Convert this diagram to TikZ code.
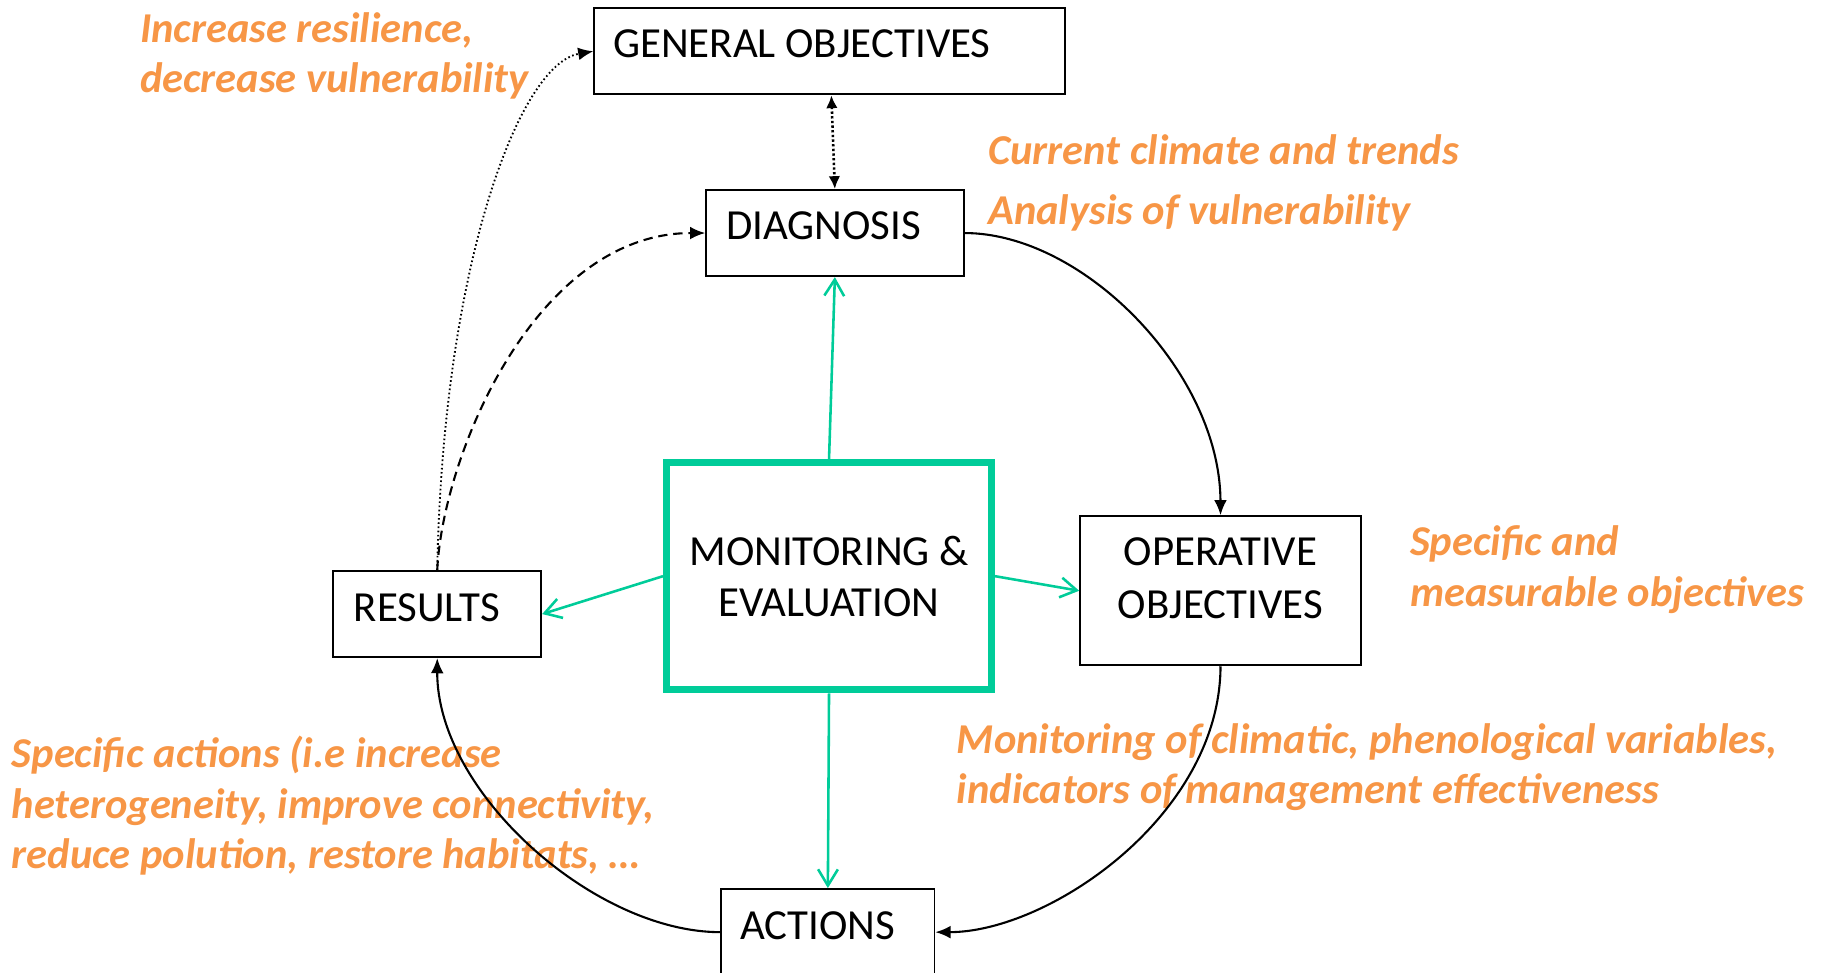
\documentclass[tikz,border=0pt]{standalone}
\usepackage{fontspec}
\setmainfont{Carlito}
\usetikzlibrary{arrows.meta}
\definecolor{mygreen}{RGB}{0,204,153}
\definecolor{myorange}{RGB}{247,150,70}
\begin{document}
\begin{tikzpicture}[x=1pt,y=-1pt,
 box/.style={draw=black,line width=1.6pt,inner sep=0pt},
 boxtxt/.style={font=\fontsize{36.8}{43}\selectfont,inner sep=0pt,anchor=base west},
 note/.style={font=\fontsize{36.5}{43}\selectfont\bfseries\itshape,text=myorange,inner sep=0pt,anchor=base west},
 flow/.style={line width=1.8pt,-{Latex[length=13pt,width=11pt]}},
 gline/.style={draw=mygreen,line width=2.2pt,-{Straight Barb[length=14pt,width=17pt]}}]
\useasboundingbox (0,0) rectangle (1568,835);
\clip (0,0) rectangle (1568,835);
% notes
\node[note] (n1) at (120,36.6) {Increase resilience,};
\node[note] (n2) at (120,79.4) {decrease vulnerability};
\node[note] (n3) at (848,141) {Current climate and trends};
\node[note] (n4) at (848,193) {Analysis of vulnerability};
\node[note] (n5) at (1210,477) {Specific and};
\node[note] (n6) at (1210,520.7) {measurable objectives};
\node[note] (n7) at (821,646.8) {Monitoring of climatic, phenological variables,};
\node[note] (n8) at (821,689.5) {indicators of management effectiveness};
\node[note] (n9) at (10,658.5) {Specific actions (i.e increase};
\node[note] (n10) at (10,702.3) {heterogeneity, improve connectivity,};
\node[note] (n11) at (10,745.2) {reduce polution, restore habitats, …};
% boxes
\node[box,minimum width=404pt,minimum height=74pt] (gen) at (712,44) {};
\node[box,minimum width=221pt,minimum height=74pt] (diag) at (716.5,200) {};
\node[draw=mygreen,line width=6pt,inner sep=0pt,minimum width=279pt,minimum height=195pt] (me) at (711.5,494.5) {};
\node[box,minimum width=178.5pt,minimum height=74pt] (res) at (375.25,527) {};
\node[box,minimum width=241pt,minimum height=128pt] (oper) at (1047.5,507) {};
\node[box,minimum width=183pt,minimum height=74pt] (act) at (710.5,800) {};
% box texts
\node[boxtxt] (tgen) at (526,49) {GENERAL OBJECTIVES};
\node[boxtxt] (tdiag) at (623,205.5) {DIAGNOSIS};
\node[boxtxt,anchor=base] (tme1) at (711.5,485) {MONITORING \&};
\node[boxtxt,anchor=base] (tme2) at (711.5,529) {EVALUATION};
\node[boxtxt] (tres) at (303.5,533) {RESULTS};
\node[boxtxt,anchor=base] (top1) at (1047.5,485.2) {OPERATIVE};
\node[boxtxt,anchor=base] (top2) at (1047.5,530.5) {OBJECTIVES};
\node[boxtxt] (tact) at (635,806) {ACTIONS};
% connectors
\draw[line width=1.6pt,dash pattern=on 1.4pt off 2.2pt,-{Latex[length=13pt,width=11pt]}] (res.north) .. controls (380,230) and (445,55) .. (gen.west);
\draw[line width=1.8pt,dash pattern=on 8pt off 5pt,-{Latex[length=13pt,width=11pt]}] (res.north) .. controls (380,390) and (460,200) .. (diag.west);
\draw[line width=2.2pt,dash pattern=on 2pt off 2pt,{Latex[length=11pt,width=10pt]}-{Latex[length=11pt,width=10pt]}] ([xshift=1.5pt]gen.south) -- (diag.north);
\draw[flow] (diag.east) .. controls (930,200) and (1047,320) .. (oper.north);
\draw[flow] (oper.south) .. controls (1047,700) and (900,800) .. (act.east);
\draw[flow] (act.west) .. controls (510,800) and (375,680) .. (res.south);
\draw[gline] (me.north) -- (diag.south);
\draw[gline] (me.west) -- (res.east);
\draw[gline] (me.east) -- (oper.west);
\draw[gline] (me.south) -- (act.north);
\end{tikzpicture}
\end{document}
